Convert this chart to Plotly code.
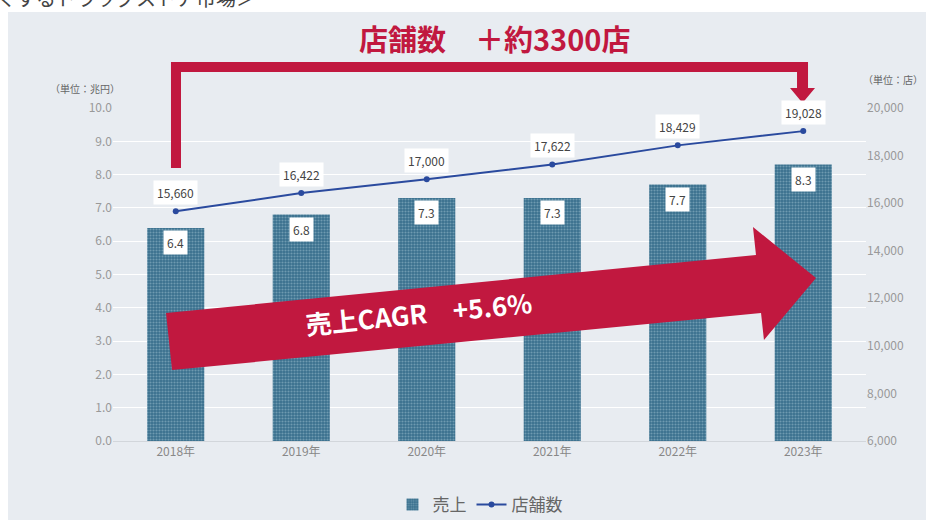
import plotly.graph_objects as go

############### DATA ###################
years = ["2018年", "2019年", "2020年", "2021年", "2022年", "2023年"]
sales = [6.4, 6.8, 7.3, 7.3, 7.7, 8.3]            # 売上 (兆円)
stores = [15660, 16422, 17000, 17622, 18429, 19028]  # 店舗数 (店)
########################################

RED = "#C1183F"
FONT = "Noto Sans CJK JP"

# plot area in pixels (926x520 canvas)
L, R, T, B = 113, 866, 108, 441


def px(x):
    return (x - L) / (R - L)


def py(y):
    return (B - y) / (B - T)


def path(points):
    s = "M " + " L ".join(f"{px(x):.4f},{py(y):.4f}" for x, y in points)
    return s + " Z"


def note(x, y, text, size, color, **kw):
    d = dict(x=px(x), y=py(y), xref="paper", yref="paper", text=text, showarrow=False,
             xanchor="center", yanchor="middle", font=dict(size=size, color=color, family=FONT))
    d.update(kw)
    return d


fig = go.Figure()

fig.add_trace(go.Bar(
    x=years, y=sales, name="売上",
    marker=dict(
        color="#3E7894",
        line=dict(width=0),
        pattern=dict(shape=".", bgcolor="#39708D", fgcolor="#A3C4D3",
                     size=3, solidity=0.4, fillmode="overlay"),
    ),
    hoverinfo="skip",
))

fig.add_trace(go.Scatter(
    x=years, y=stores, name="店舗数", yaxis="y2",
    mode="lines+markers",
    line=dict(color="#2A4A9E", width=2),
    marker=dict(size=6, color="#2A4A9E"),
))

annotations = []
for yr, v in zip(years, sales):
    annotations.append(dict(
        x=yr, y=v, xref="x", yref="y", text=f"{v:.1f}", showarrow=False,
        yshift=-15, bgcolor="white", borderpad=3,
        font=dict(size=12, color="#444", family=FONT)))
for yr, v in zip(years, stores):
    annotations.append(dict(
        x=yr, y=v, xref="x", yref="y2", text=f"{v:,}", showarrow=False,
        yshift=19, bgcolor="white", borderpad=3,
        font=dict(size=12, color="#444", family=FONT)))

# unit labels, title and arrow text
annotations += [
    note(85, 88, "（単位：兆円）", 10, "#666"),
    note(893, 80, "（単位：店）", 10, "#666"),
    note(494, 38, "<b>店舗数　＋約3300店</b>", 29, RED),
    note(418, 312, "<b>売上CAGR　+5.6%</b>", 26, "white", textangle=-5.6),
    note(-6, -2, "くするドラッグストア市場＞", 20, "#444", xanchor="left"),
]

shapes = [
    # slide background panel
    dict(type="rect", xref="paper", yref="paper", layer="below",
         x0=px(8), x1=px(930), y0=py(530), y1=py(12),
         fillcolor="#E8ECF1", line=dict(width=0)),
    # bracket arrow for store count
    dict(type="path", xref="paper", yref="paper", fillcolor=RED, line=dict(width=0),
         path=path([(171, 168), (171, 62), (808, 62), (808, 88), (815, 88),
                    (802.5, 103), (790, 88), (797, 88), (797, 72), (181, 72), (181, 168)])),
    # big CAGR arrow
    dict(type="path", xref="paper", yref="paper", fillcolor=RED, line=dict(width=0),
         path=path([(166, 313), (756, 255), (753, 227), (816, 278),
                    (764, 340), (761, 313), (172, 370)])),
]

fig.update_layout(
    width=926, height=520,
    margin=dict(l=L, r=926 - R, t=T, b=520 - B, autoexpand=False),
    paper_bgcolor="white",
    plot_bgcolor="rgba(0,0,0,0)",
    font=dict(family=FONT, color="#888"),
    bargap=0.545,
    showlegend=True,
    legend=dict(orientation="h", x=px(480), xanchor="center", y=py(505), yanchor="middle",
                font=dict(size=17, color="#666", family=FONT),
                bgcolor="rgba(0,0,0,0)", itemwidth=30),
    xaxis=dict(showgrid=False, showline=True, linecolor="#D2D6DB", linewidth=1,
               ticks="", tickfont=dict(size=12, color="#888")),
    yaxis=dict(range=[0, 10], dtick=1, tickformat=".1f", gridcolor="white", gridwidth=1,
               zeroline=False, ticks="", tickfont=dict(size=12, color="#999")),
    yaxis2=dict(range=[6000, 20000], dtick=2000, tickformat=",", overlaying="y",
                side="right", showgrid=False, zeroline=False, ticks="",
                tickfont=dict(size=12, color="#999")),
    annotations=annotations,
    shapes=shapes,
)

# drop the browser's default body margin so the chart sits at the page corner
fig.write_html("out.html", config={"displayModeBar": False},
               post_script="document.body.style.margin='0';")
